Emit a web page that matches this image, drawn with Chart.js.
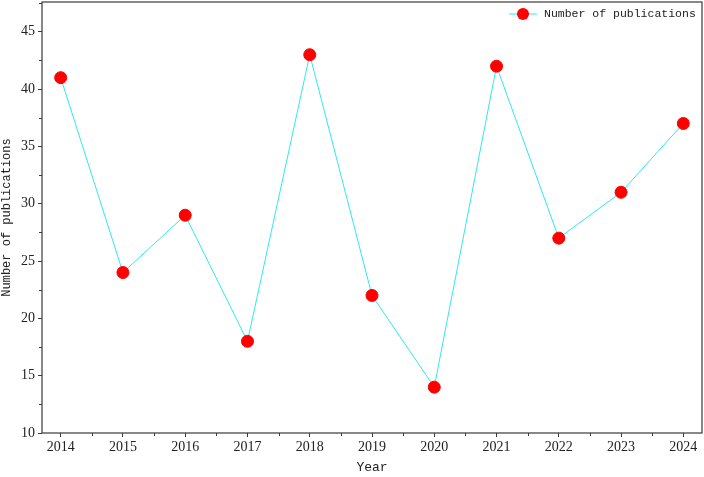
<!DOCTYPE html>
<html>
<head>
<meta charset="utf-8">
<script src="https://cdn.jsdelivr.net/npm/chart.js@4/dist/chart.umd.min.js"></script>
<style>
  html, body { margin: 0; padding: 0; background: #fff; }
  #wrap { width: 704px; height: 477px; }
</style>
</head>
<body>
<div id="wrap"><canvas id="pubChart"></canvas></div>
<script>
// data
const years = [2014, 2015, 2016, 2017, 2018, 2019, 2020, 2021, 2022, 2023, 2024];
const publications = [41, 24, 29, 18, 43, 22, 14, 42, 27, 31, 37];
const seriesLabel = 'Number of publications';
const xTitle = 'Year';
const yTitle = 'Number of publications';

const AXIS = '#3a3a3a';
const TXT  = '#222222';
const NUM_FONT  = { family: "'Liberation Serif', serif", size: 14 };
const TEXT_FONT = { family: "'Liberation Mono', monospace", size: 11.5 };

// minor ticks + frame + in-plot legend
const framePlugin = {
  id: 'frame',
  afterDraw(chart) {
    const { ctx, chartArea: a, scales: { x, y } } = chart;
    ctx.save();
    ctx.strokeStyle = AXIS;
    ctx.lineWidth = 1.2;
    ctx.strokeRect(a.left, a.top, a.right - a.left, a.bottom - a.top);

    ctx.lineWidth = 1;
    ctx.beginPath();
    for (let v = 12.5; v < y.max; v += 5) {
      const py = Math.round(y.getPixelForValue(v)) + 0.5;
      ctx.moveTo(a.left, py); ctx.lineTo(a.left - 3, py);
    }
    for (let v = years[0] - 0.5; v < x.max; v += 1) {
      if (v < x.min) continue;
      const px = Math.round(x.getPixelForValue(v)) + 0.5;
      ctx.moveTo(px, a.bottom); ctx.lineTo(px, a.bottom + 3);
    }
    ctx.stroke();

    // legend
    const lx = 509, ly = 14;
    ctx.strokeStyle = '#2fe8ee';
    ctx.lineWidth = 1;
    ctx.beginPath();
    ctx.moveTo(lx, ly); ctx.lineTo(lx + 28, ly);
    ctx.stroke();
    ctx.fillStyle = '#ff0000';
    ctx.beginPath();
    ctx.arc(lx + 14, ly, 6, 0, Math.PI * 2);
    ctx.fill();
    ctx.fillStyle = TXT;
    ctx.font = `${TEXT_FONT.size}px ${TEXT_FONT.family}`;
    ctx.textBaseline = 'middle';
    ctx.fillText(seriesLabel, lx + 35, ly);
    ctx.restore();
  }
};

new Chart(document.getElementById('pubChart'), {
  type: 'line',
  data: {
    datasets: [{
      label: seriesLabel,
      data: years.map((yr, i) => ({ x: yr, y: publications[i] })),
      borderColor: '#2fe8ee',
      borderWidth: 1,
      pointBackgroundColor: '#ff0000',
      pointBorderColor: '#ff0000',
      pointRadius: 6,
      tension: 0,
    }],
  },
  options: {
    responsive: true,
    maintainAspectRatio: false,
    animation: false,
    layout: { autoPadding: false, padding: { top: 2, right: 2, left: 0, bottom: 0 } },
    plugins: { legend: { display: false }, tooltip: { enabled: false } },
    scales: {
      x: {
        type: 'linear',
        min: 2013.7,
        max: 2024.3,
        afterBuildTicks: s => { s.ticks = years.map(v => ({ value: v })); },
        afterFit: s => { s.height = 44; s.paddingLeft = 0; s.paddingRight = 0; },
        grid: { display: true, drawOnChartArea: false, drawTicks: true, tickLength: 4, color: AXIS },
        border: { display: false },
        ticks: { color: TXT, font: NUM_FONT, padding: 2, maxRotation: 0, callback: v => String(v) },
        title: { display: true, text: xTitle, color: TXT, font: { ...TEXT_FONT, size: 13 }, padding: { top: 0, bottom: 2 } },
      },
      y: {
        type: 'linear',
        min: 10,
        max: 47.6,
        afterBuildTicks: s => {
          const t = [];
          for (let v = 10; v <= 45; v += 5) t.push({ value: v });
          s.ticks = t;
        },
        afterFit: s => { s.width = 42; s.paddingTop = 0; s.paddingBottom = 0; },
        grid: { display: true, drawOnChartArea: false, drawTicks: true, tickLength: 4, color: AXIS },
        border: { display: false },
        ticks: { color: TXT, font: NUM_FONT, padding: 3 },
        title: { display: true, text: yTitle, color: TXT, font: { ...TEXT_FONT, size: 12 }, padding: { top: 0, bottom: 2 } },
      },
    },
  },
  plugins: [framePlugin],
});
</script>
</body>
</html>
